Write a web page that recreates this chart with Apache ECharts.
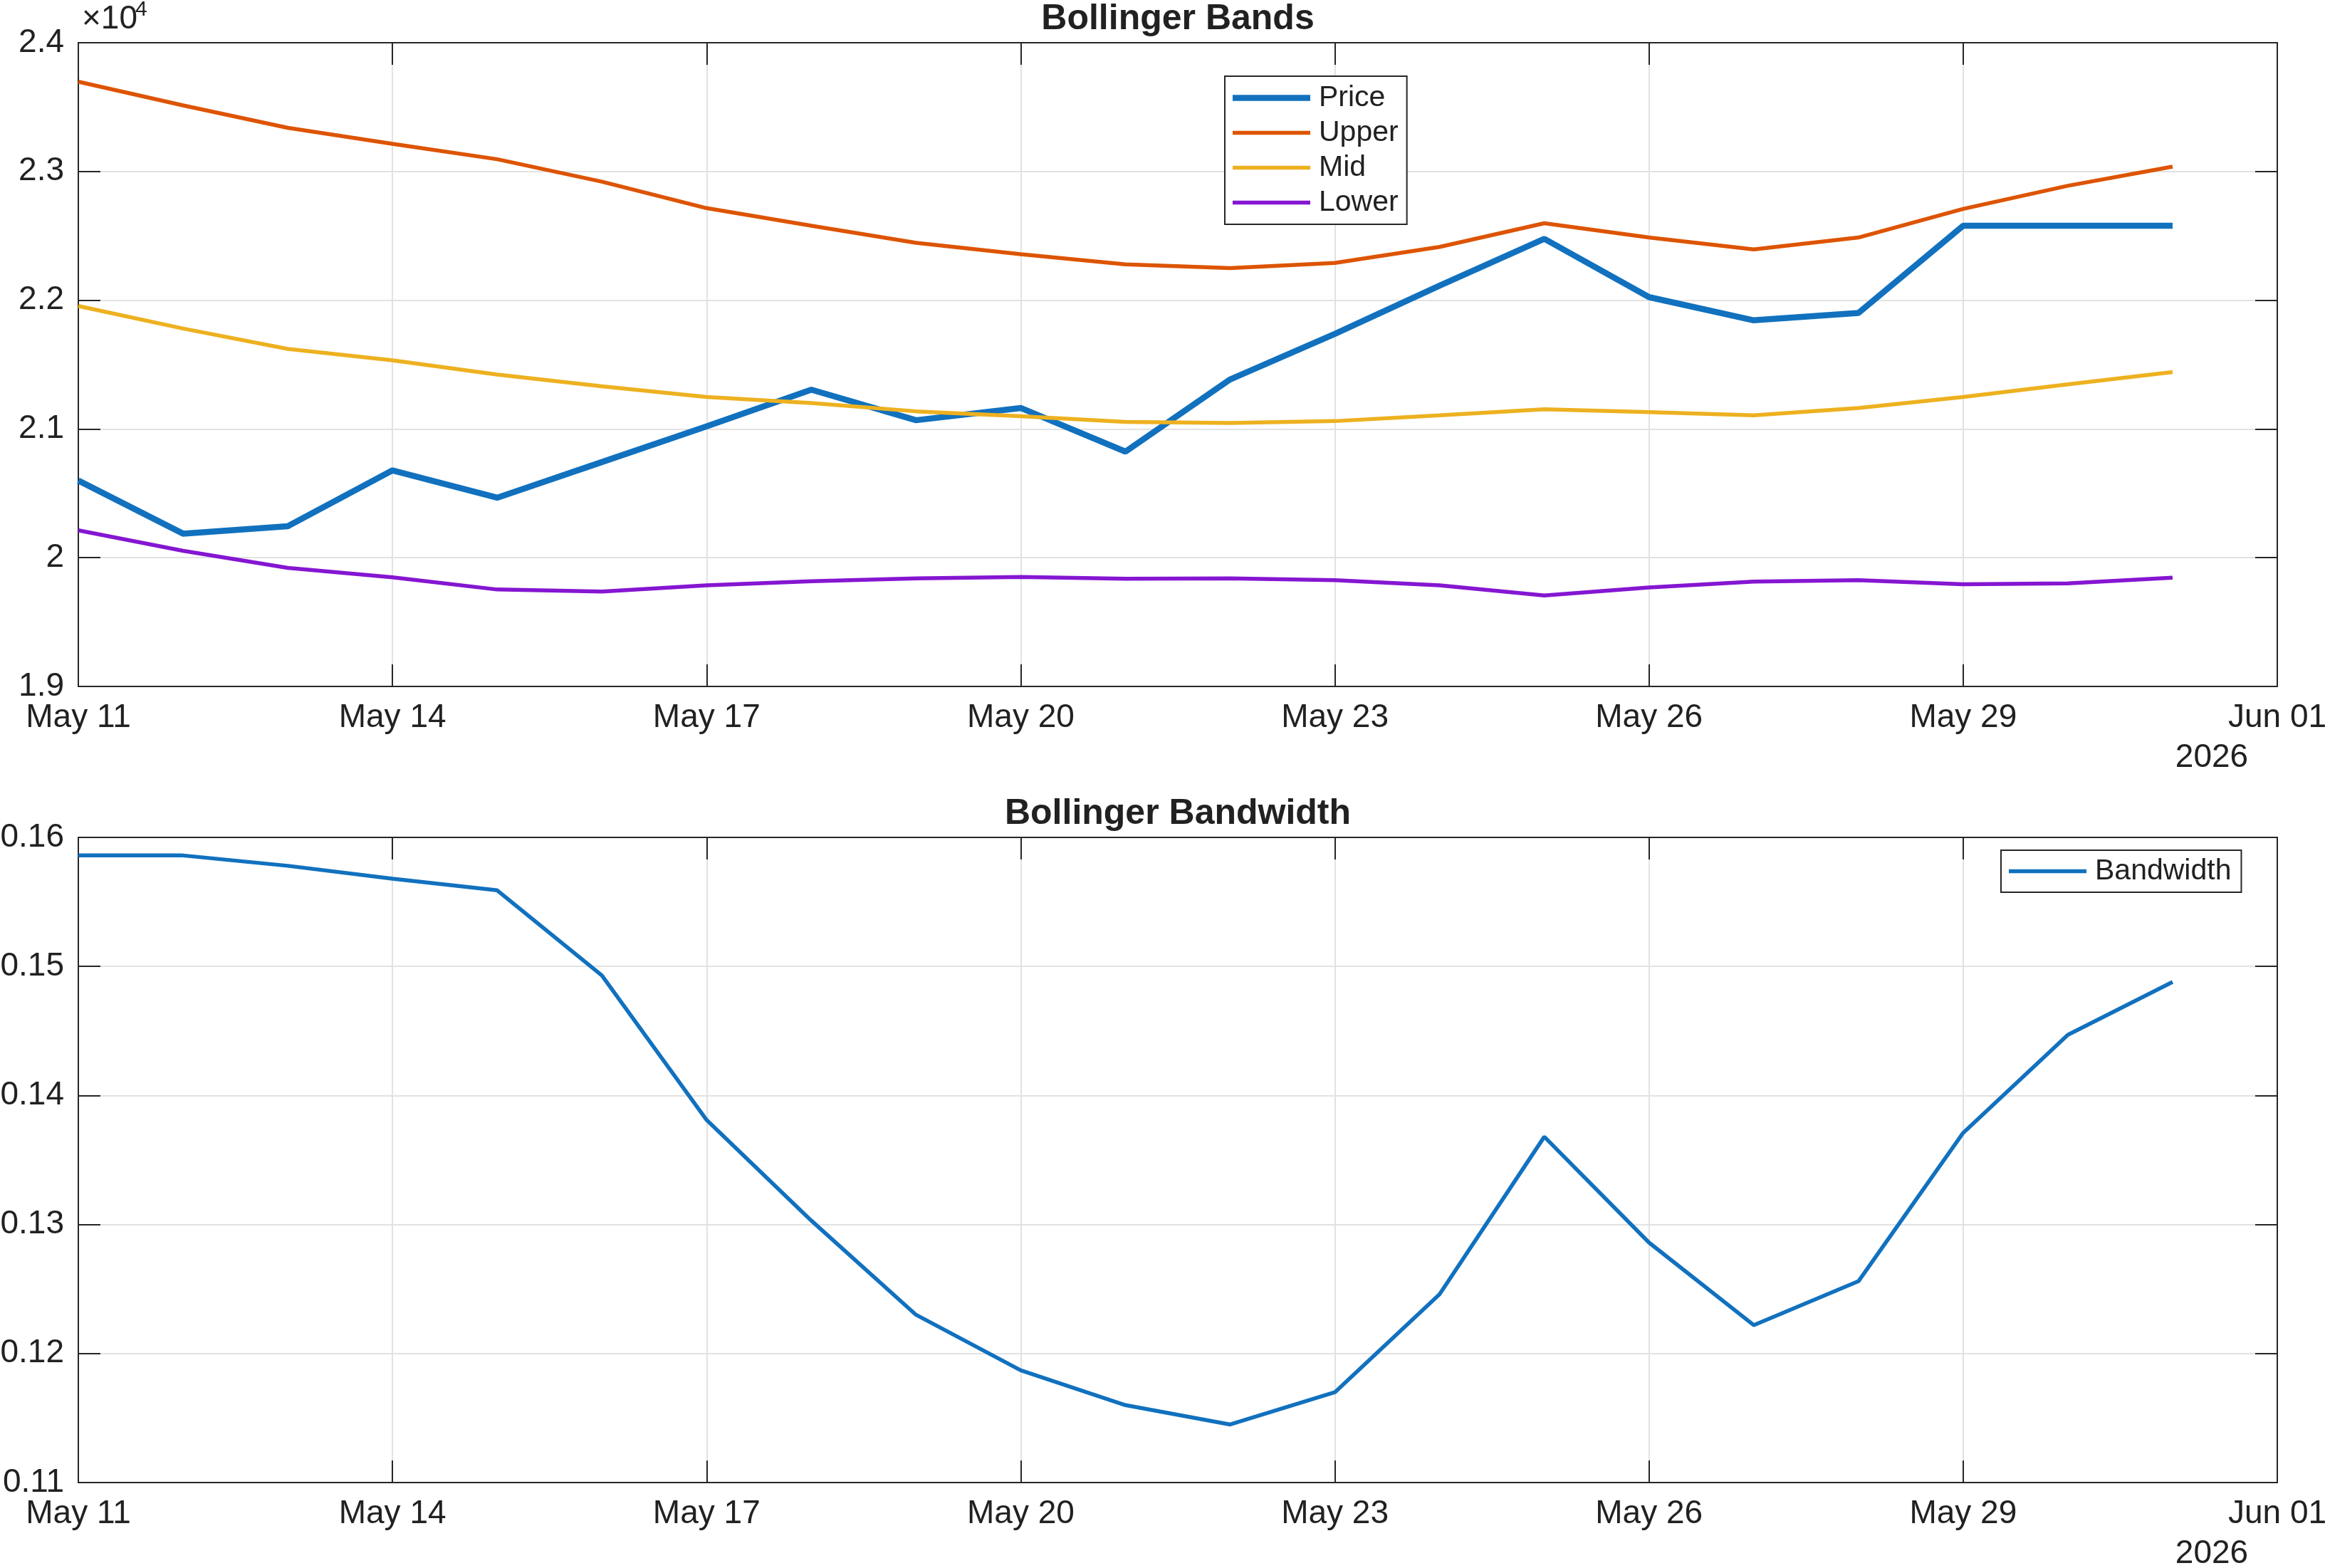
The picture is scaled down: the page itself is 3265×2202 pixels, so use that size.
<!DOCTYPE html>
<html>
<head>
<meta charset="utf-8">
<title>Bollinger Bands</title>
<script src="https://cdn.jsdelivr.net/npm/echarts@6/dist/echarts.min.js"></script>
<style>
  html, body { margin: 0; padding: 0; background: #fff; }
  #chart { width: 3265px; height: 2202px; }
</style>
</head>
<body>
<div id="chart"></div>
<script>
// daily closes, May 2026 (x = day index from May 11)
var dates = ['May 11', 'May 12', 'May 13', 'May 14', 'May 15', 'May 16', 'May 17',
  'May 18', 'May 19', 'May 20', 'May 21', 'May 22', 'May 23', 'May 24',
  'May 25', 'May 26', 'May 27', 'May 28', 'May 29', 'May 30', 'May 31'];
var tickLabels = ['May 11', 'May 14', 'May 17', 'May 20', 'May 23', 'May 26', 'May 29', 'Jun 01'];

var price = [20599, 20187, 20244, 20678, 20466, 20743, 21020, 21305, 21068, 21163, 20824,
  21385, 21739, 22113, 22477, 22024, 21844, 21901, 22579, 22579, 22579];
var upper = [23697, 23513, 23339, 23215, 23095, 22921, 22715, 22579, 22446, 22357, 22278,
  22249, 22290, 22414, 22598, 22487, 22395, 22487, 22709, 22889, 23038];
var mid = [21955, 21780, 21622, 21533, 21423, 21331, 21248, 21201, 21137, 21099, 21055,
  21046, 21061, 21106, 21153, 21131, 21106, 21163, 21248, 21347, 21442];
var lower = [20213, 20054, 19921, 19848, 19753, 19737, 19785, 19817, 19839, 19851, 19836,
  19839, 19826, 19785, 19706, 19769, 19814, 19826, 19794, 19801, 19845];
var bandwidth = [0.1586, 0.1586, 0.1578, 0.1568, 0.1559, 0.1493, 0.1381, 0.1303, 0.1230,
  0.1187, 0.1160, 0.1145, 0.1170, 0.1246, 0.1368, 0.1286, 0.1222, 0.1256, 0.1371, 0.1447, 0.1488];

var font = 'Liberation Sans, Arial, Helvetica, sans-serif';
var dark = '#262626';
var textColor = '#212121';
var gridColor = '#e2e2e2';

function pts(arr) {
  return arr.map(function (v, i) { return [i, v]; });
}

// box axes: the second axis of each pair only draws the border line and mirrored ticks
function xAxisFor(gridIndex, top) {
  return {
    type: 'value', gridIndex: gridIndex, min: 0, max: 21, interval: 3,
    position: top ? 'top' : 'bottom',
    axisLine: { show: true, onZero: false, lineStyle: { color: dark, width: 2 } },
    axisTick: { show: true, inside: true, length: 31, lineStyle: { color: dark, width: 2 } },
    axisLabel: {
      show: !top, margin: 21, fontSize: 46, color: textColor, fontFamily: font,
      showMinLabel: true, showMaxLabel: true,
      formatter: function (v) { return tickLabels[Math.round(v / 3)]; }
    },
    splitLine: { show: !top, lineStyle: { color: gridColor, width: 2 } }
  };
}

function yAxisFor(gridIndex, right, min, max, interval, fmt) {
  return {
    type: 'value', gridIndex: gridIndex, min: min, max: max, interval: interval,
    position: right ? 'right' : 'left',
    axisLine: { show: true, onZero: false, lineStyle: { color: dark, width: 2 } },
    axisTick: { show: true, inside: true, length: 31, lineStyle: { color: dark, width: 2 } },
    axisLabel: {
      show: !right, margin: 20, fontSize: 46, color: textColor, fontFamily: font,
      showMinLabel: true, showMaxLabel: true, formatter: fmt
    },
    splitLine: { show: !right, lineStyle: { color: gridColor, width: 2 } }
  };
}

var priceFmt = function (v) { return String(Math.round(v / 100) / 100); };
var bwFmt = function (v) { return v.toFixed(2); };

var chart = echarts.init(document.getElementById('chart'));
var option = {
  animation: false,
  backgroundColor: '#fff',
  title: [
    { text: 'Bollinger Bands', left: 1654, top: 2, textAlign: 'center', padding: 0,
      textStyle: { fontSize: 50, fontWeight: 'bold', fontFamily: font, color: textColor } },
    { text: 'Bollinger Bandwidth', left: 1654, top: 1118, textAlign: 'center', padding: 0,
      textStyle: { fontSize: 50, fontWeight: 'bold', fontFamily: font, color: textColor } }
  ],
  grid: [
    { left: 110, right: 67, top: 60, height: 904, containLabel: false, outerBoundsMode: 'none' },
    { left: 110, right: 67, top: 1176, height: 906, containLabel: false, outerBoundsMode: 'none' }
  ],
  xAxis: [xAxisFor(0, false), xAxisFor(0, true), xAxisFor(1, false), xAxisFor(1, true)],
  yAxis: [
    yAxisFor(0, false, 19000, 24000, 1000, priceFmt),
    yAxisFor(0, true, 19000, 24000, 1000, priceFmt),
    yAxisFor(1, false, 0.11, 0.16, 0.01, bwFmt),
    yAxisFor(1, true, 0.11, 0.16, 0.01, bwFmt)
  ],
  legend: [
    {
      data: [
        { name: 'Price', icon: 'path://M0 0H109V8.5H0Z' },
        { name: 'Upper', icon: 'path://M0 0H109V5.5H0Z' },
        { name: 'Mid', icon: 'path://M0 0H109V5.5H0Z' },
        { name: 'Lower', icon: 'path://M0 0H109V5.5H0Z' }
      ],
      orient: 'vertical', left: 1720, top: 107, padding: [6, 12, 6, 11], itemGap: 0,
      itemWidth: 109, itemHeight: 9, symbolKeepAspect: true, selectedMode: false,
      borderColor: dark, borderWidth: 2, borderRadius: 0, backgroundColor: '#fff',
      textStyle: { fontSize: 41, fontFamily: font, color: textColor, lineHeight: 49, padding: [0, 0, 0, 7] }
    },
    {
      data: [{ name: 'Bandwidth', icon: 'path://M0 0H109V5.5H0Z' }],
      orient: 'vertical', left: 2810, top: 1194, padding: [5, 14, 5, 11], itemGap: 0,
      itemWidth: 109, itemHeight: 9, symbolKeepAspect: true, selectedMode: false,
      borderColor: dark, borderWidth: 2, borderRadius: 0, backgroundColor: '#fff',
      textStyle: { fontSize: 41, fontFamily: font, color: textColor, lineHeight: 49, padding: [0, 0, 0, 7] }
    }
  ],
  graphic: [
    { type: 'text', x: 115, y: 27, style: { text: '×10', fontSize: 46, fontFamily: font, fill: textColor, align: 'left', verticalAlign: 'middle' } },
    { type: 'text', x: 190, y: 14, style: { text: '4', fontSize: 30, fontFamily: font, fill: textColor, align: 'left', verticalAlign: 'middle' } },
    { type: 'text', x: 3106, y: 1064, style: { text: '2026', fontSize: 46, fontFamily: font, fill: textColor, align: 'center', verticalAlign: 'middle' } },
    { type: 'text', x: 3106, y: 2182, style: { text: '2026', fontSize: 46, fontFamily: font, fill: textColor, align: 'center', verticalAlign: 'middle' } }
  ],
  series: [
    { name: 'Price', type: 'line', xAxisIndex: 0, yAxisIndex: 0, data: pts(price), symbol: 'none',
      lineStyle: { width: 8.5, color: '#1171BE' }, itemStyle: { color: '#1171BE' } },
    { name: 'Upper', type: 'line', xAxisIndex: 0, yAxisIndex: 0, data: pts(upper), symbol: 'none',
      lineStyle: { width: 5.5, color: '#DD5400' }, itemStyle: { color: '#DD5400' } },
    { name: 'Mid', type: 'line', xAxisIndex: 0, yAxisIndex: 0, data: pts(mid), symbol: 'none',
      lineStyle: { width: 5.5, color: '#EDB120' }, itemStyle: { color: '#EDB120' } },
    { name: 'Lower', type: 'line', xAxisIndex: 0, yAxisIndex: 0, data: pts(lower), symbol: 'none',
      lineStyle: { width: 5.5, color: '#8516D1' }, itemStyle: { color: '#8516D1' } },
    { name: 'Bandwidth', type: 'line', xAxisIndex: 2, yAxisIndex: 2, data: pts(bandwidth), symbol: 'none',
      lineStyle: { width: 5.5, color: '#1171BE' }, itemStyle: { color: '#1171BE' } }
  ]
};
chart.setOption(option);
</script>
</body>
</html>
